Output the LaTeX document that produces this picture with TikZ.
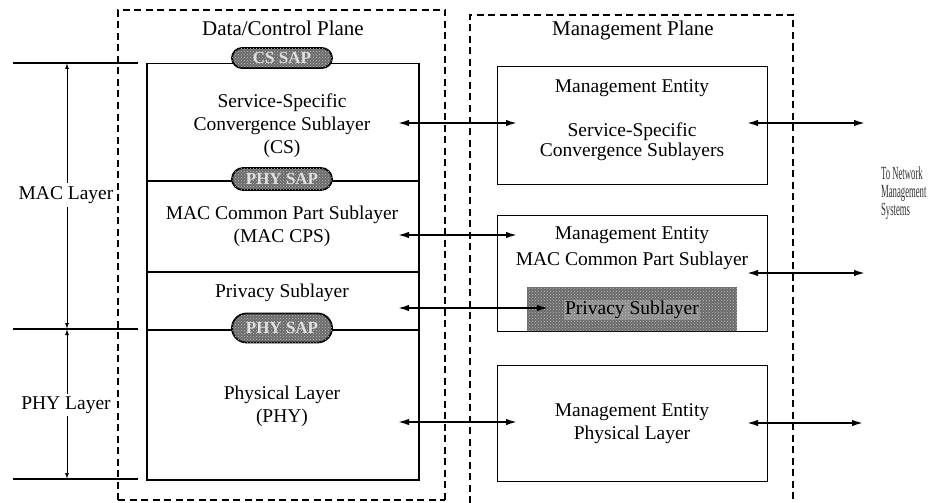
\documentclass[tikz,border=0pt]{standalone}
\usepackage{fontspec}
\setmainfont{Liberation Serif}
\usetikzlibrary{arrows.meta,shapes.misc,patterns}

\tikzset{
  plane/.style={draw, line width=1.1pt, dash pattern=on 7pt off 4.5pt},
  layerbox/.style={draw, line width=1.5pt, anchor=north west, minimum width=272pt, inner sep=0pt},
  mgmtbox/.style={draw, line width=1.3pt, anchor=north west, minimum width=270pt, minimum height=116pt, inner sep=0pt},
  halftone/.style={fill=black!58, postaction={pattern=crosshatch dots, pattern color=white!75!black}},
  sap/.style={rounded rectangle, draw, line width=1.8pt, halftone, text=white!88!black,
    minimum width=100pt, inner sep=0pt, font=\fontsize{17}{17}\selectfont\bfseries},
  txt/.style={font=\fontsize{19.5}{23}\selectfont, align=center, inner sep=0pt},
  title/.style={font=\fontsize{21}{24}\selectfont, inner sep=0pt},
  note/.style={font=\fontsize{18.5}{18}\selectfont, align=left, inner sep=0pt, text=black!80,
    xscale=0.47, transform shape},
  link/.style={line width=1.7pt, {Latex[length=11pt,width=6.5pt]}-{Latex[length=11pt,width=6.5pt]}},
  dim/.style={line width=1pt, {Latex[length=6pt,width=4pt]}-{Latex[length=6pt,width=4pt]}},
  rule/.style={line width=1.1pt}
}

\begin{document}
\begin{tikzpicture}[x=1pt,y=-1pt]
\useasboundingbox (0,0) rectangle (929,503);

% the two planes
\draw[plane] (118,500) -- (118,10) -- (445,10) -- (445,503);
\draw[plane] (118,500) -- (445,500);
\draw[plane] (470,503) -- (470,15) -- (793,15) -- (793,503);
\node[title] (dcp) at (283,28) {Data/Control Plane};
\node[title] (mp) at (633,30) {Management Plane};

% protocol stack of the data/control plane
\node[layerbox, minimum height=117pt] (cs)   at (146,63)  {};
\node[layerbox, minimum height=91pt]  (cps)  at (146,180) {};
\node[layerbox, minimum height=58pt]  (priv) at (146,271) {};
\node[layerbox, minimum height=150pt] (phy)  at (146,329) {};

\node[txt] (cstext)   at (282,126) {Service-Specific\\Convergence Sublayer\\(CS)};
\node[txt] (cpstext)  at (282,226) {MAC Common Part Sublayer\\(MAC CPS)};
\node[txt] (privtext) at (282,293) {Privacy Sublayer};
\node[txt] (phytext)  at (282,406) {Physical Layer\\(PHY)};

% service access points
\node[sap, minimum height=20pt] (cssap)  at (282,58)  {CS SAP};
\node[sap, minimum height=22pt] (macsap) at (282,179) {PHY SAP};
\node[sap, minimum height=29pt] (physap) at (282,328) {PHY SAP};

% layer extent markers
\coordinate (t0) at (13,63);   \coordinate (t1) at (138,63);
\coordinate (m0) at (13,329);  \coordinate (m1) at (138,329);
\coordinate (b0) at (13,479);  \coordinate (b1) at (138,479);
\draw[rule] (t0) -- (t1);
\draw[rule] (m0) -- (m1);
\draw[rule] (b0) -- (b1);
\coordinate (dtop) at (67,63);
\coordinate (dmid) at (67,329);
\coordinate (dbot) at (67,479);
\draw[dim] (dtop) -- (dmid);
\draw[dim] (dmid) -- (dbot);
\node[txt, fill=white, inner sep=3pt] (maclayer) at (66,195) {MAC Layer};
\node[txt, fill=white, inner sep=3pt] (phylayer) at (66,405) {PHY Layer};

% management entities
\node[mgmtbox, minimum height=118pt] (me1) at (497,66) {};
\node[mgmtbox] (me2) at (497,215) {};
\node[mgmtbox] (me3) at (497,365) {};
\node[txt] (me1a) at (632,88)  {Management Entity};
\node[txt, font=\fontsize{19.5}{20}\selectfont] (me1b) at (632,142) {Service-Specific\\Convergence Sublayers};
\node[txt, font=\fontsize{19.5}{26}\selectfont] (me2a) at (632,248) {Management Entity\\MAC Common Part Sublayer};
\node[halftone, anchor=north west, minimum width=210pt, minimum height=44pt, inner sep=0pt] (mpriv) at (527,287) {};
\node[txt, fill=white!80!black, fill opacity=0.35, text opacity=1, inner sep=1pt] (mprivtext) at (632,310) {Privacy Sublayer};
\node[txt] (me3a) at (632,424) {Management Entity\\Physical Layer};

\node[note, anchor=west] (nms) at (881,193) {To Network\\Management\\Systems};

% links between the planes
\coordinate (csR)   at (398,123); \coordinate (me1L) at (517,123);
\coordinate (cpsR)  at (398,235); \coordinate (me2L) at (517,235);
\coordinate (privR) at (398,308); \coordinate (mprivL) at (548,308);
\coordinate (phyR)  at (398,422); \coordinate (me3L) at (517,422);
\draw[link] (csR) -- (me1L);
\draw[link] (cpsR) -- (me2L);
\draw[link] (privR) -- (mprivL);
\draw[link] (phyR) -- (me3L);

% links to network management systems
\coordinate (me1R) at (747,123); \coordinate (n1) at (865,123);
\coordinate (me2R) at (747,273); \coordinate (n2) at (865,273);
\coordinate (me3R) at (747,423); \coordinate (n3) at (863,423);
\draw[link] (me1R) -- (n1);
\draw[link] (me2R) -- (n2);
\draw[link] (me3R) -- (n3);
\end{tikzpicture}
\end{document}
